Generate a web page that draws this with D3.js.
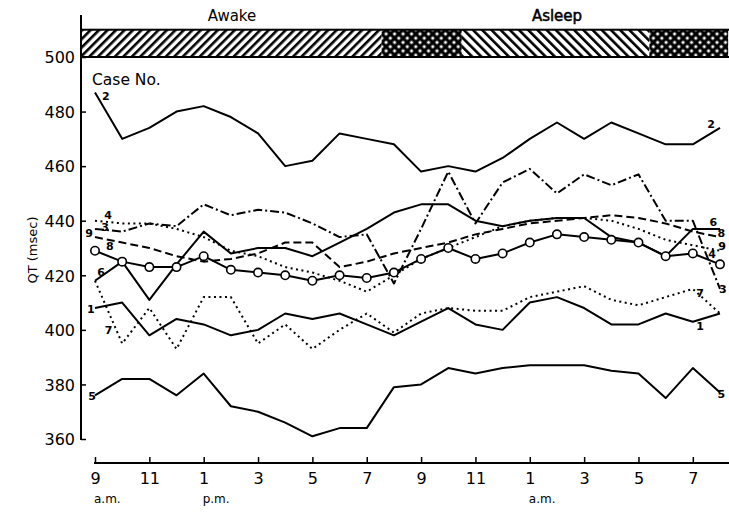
<!DOCTYPE html>
<html>
<head>
<meta charset="utf-8">
<script src="https://cdn.jsdelivr.net/npm/d3@7"></script>
<style>
  body { margin: 0; background: #fff; }
  svg { display: block; }
  text { font-family: "DejaVu Sans", sans-serif; fill: #000; }
</style>
</head>
<body>
<svg id="chart" width="729" height="518"></svg>
<script>
// hour 0 = 9 a.m., hour 23 = 8 a.m. next day
var hours = d3.range(24);
var tickHours = [0, 2, 4, 6, 8, 10, 12, 14, 16, 18, 20, 22];
var tickLabels = ["9", "11", "1", "3", "5", "7", "9", "11", "1", "3", "5", "7"];
var periodHours = [0, 4, 16];
var periodLabels = ["a.m.", "p.m.", "a.m."];
var yTicks = [360, 380, 400, 420, 440, 460, 480, 500];

// sleep band: segment edges in hours, and fill type
var bandEdges = [-0.5, 10.55, 13.5, 20.4, 23.3];
var bandFills = ["fwd", "cross", "back", "cross"];

var case1 = [408, 410, 398, 404, 402, 398, 400, 406, 404, 406, 402, 398, 403, 408, 402, 400, 410, 412, 408, 402, 402, 406, 403, 406];
var case2 = [487, 470, 474, 480, 482, 478, 472, 460, 462, 472, 470, 468, 458, 460, 458, 463, 470, 476, 470, 476, 472, 468, 468, 474];
var case3 = [437, 436, 439, 438, 446, 442, 444, 443, 439, 434, 435, 417, 437, 458, 439, 454, 459, 450, 457, 453, 457, 440, 440, 415];
var case4 = [440, 439, 439, 437, 434, 429, 427, 423, 421, 418, 414, 420, 426, 430, 434, 438, 440, 441, 441, 440, 437, 433, 431, 429];
var case5 = [376, 382, 382, 376, 384, 372, 370, 366, 361, 364, 364, 379, 380, 386, 384, 386, 387, 387, 387, 385, 384, 375, 386, 377];
var case6 = [418, 425, 411, 424, 436, 428, 430, 430, 427, 432, 437, 443, 446, 446, 440, 438, 440, 441, 441, 434, 432, 427, 437, 437];
var case7 = [418, 395, 408, 393, 412, 412, 395, 402, 393, 400, 406, 399, 406, 408, 407, 407, 412, 414, 416, 411, 409, 412, 415, 406];
var case8 = [429, 425, 423, 423, 427, 422, 421, 420, 418, 420, 419, 421, 426, 430, 426, 428, 432, 435, 434, 433, 432, 427, 428, 424];
var case9 = [434, 432, 430, 427, 425, 426, 428, 432, 432, 423, 425, 428, 430, 432, 435, 437, 439, 440, 441, 442, 441, 439, 436, 434];

var series = [
  { id: "1", values: case1, style: "solid" },
  { id: "2", values: case2, style: "solid" },
  { id: "3", values: case3, style: "dashdot" },
  { id: "4", values: case4, style: "dotted" },
  { id: "5", values: case5, style: "solid" },
  { id: "6", values: case6, style: "solid" },
  { id: "7", values: case7, style: "dotted" },
  { id: "8", values: case8, style: "circles" },
  { id: "9", values: case9, style: "dashed" }
];

// where the case numbers sit, in hours and msec
var leftLabels = [
  { id: "2", h: 0.4, v: 484.2 }, { id: "4", h: 0.48, v: 440.6 }, { id: "3", h: 0.37, v: 436.4 },
  { id: "9", h: -0.22, v: 434.0 }, { id: "8", h: 0.55, v: 429.3 }, { id: "6", h: 0.22, v: 419.7 },
  { id: "1", h: -0.15, v: 406.2 }, { id: "7", h: 0.5, v: 398.4 }, { id: "5", h: -0.11, v: 374.3 }
];
var rightLabels = [
  { id: "2", h: 22.67, v: 474.0 }, { id: "6", h: 22.75, v: 437.9 }, { id: "8", h: 23.05, v: 434.0 },
  { id: "9", h: 23.08, v: 429.2 }, { id: "4", h: 22.71, v: 426.4 }, { id: "3", h: 23.1, v: 413.5 },
  { id: "7", h: 22.27, v: 412.0 }, { id: "1", h: 22.27, v: 400.0 }, { id: "5", h: 23.05, v: 375.0 }
];

var svg = d3.select("#chart");

var x = d3.scaleLinear().domain([0, 23]).range([95, 720]);
var y = d3.scaleLinear().domain([360, 500]).range([439, 57]);

var dashes = { solid: null, circles: null, dotted: "2,3.5", dashed: "8,4", dashdot: "9,3,2,3" };

// hatch patterns for the band
var defs = svg.append("defs");
var fwd = defs.append("pattern").attr("id", "fwd").attr("patternUnits", "userSpaceOnUse")
  .attr("width", 6).attr("height", 6).attr("patternTransform", "rotate(45)");
fwd.append("rect").attr("width", 6).attr("height", 6).attr("fill", "#fff");
fwd.append("rect").attr("width", 2.6).attr("height", 6).attr("fill", "#000");
var back = defs.append("pattern").attr("id", "back").attr("patternUnits", "userSpaceOnUse")
  .attr("width", 6.5).attr("height", 6.5).attr("patternTransform", "rotate(-45)");
back.append("rect").attr("width", 6.5).attr("height", 6.5).attr("fill", "#fff");
back.append("rect").attr("width", 2.6).attr("height", 6.5).attr("fill", "#000");
var cross = defs.append("pattern").attr("id", "cross").attr("patternUnits", "userSpaceOnUse")
  .attr("width", 6).attr("height", 6).attr("patternTransform", "rotate(45)");
cross.append("rect").attr("width", 6).attr("height", 6).attr("fill", "#000");
cross.append("rect").attr("x", 1.6).attr("y", 1.6).attr("width", 2.8).attr("height", 2.8).attr("fill", "#fff");

var bandTop = y(510), bandBottom = y(500);
svg.selectAll(".band").data(bandFills).enter().append("rect")
  .attr("class", "band")
  .attr("x", (d, i) => Math.max(x(bandEdges[i]), 81))
  .attr("y", bandTop)
  .attr("width", (d, i) => Math.min(x(bandEdges[i + 1]), 729) - Math.max(x(bandEdges[i]), 81))
  .attr("height", bandBottom - bandTop)
  .attr("fill", d => "url(#" + d + ")");
svg.append("rect").attr("x", 81).attr("y", bandTop).attr("width", 660).attr("height", bandBottom - bandTop)
  .attr("fill", "none").attr("stroke", "#000").attr("stroke-width", 2);

svg.append("text").attr("x", 232).attr("y", 21).attr("text-anchor", "middle")
  .style("font-size", "15px").text("Awake");
svg.append("text").attr("x", 557).attr("y", 21).attr("text-anchor", "middle")
  .style("font-size", "15px").attr("stroke", "#000").attr("stroke-width", 0.5).text("Asleep");

// y axis
svg.append("line").attr("x1", 81).attr("x2", 81).attr("y1", 15).attr("y2", y(360) + 1)
  .attr("stroke", "#000").attr("stroke-width", 2);
var yAxis = svg.append("g").attr("transform", "translate(81,0)")
  .call(d3.axisLeft(y).tickValues(yTicks).tickSize(-5).tickPadding(6));
yAxis.select(".domain").remove();
yAxis.selectAll("line").attr("stroke-width", 1.5);
yAxis.selectAll("text").style("font-size", "16px").style("font-family", "DejaVu Sans").attr("dy", "0.36em");

svg.append("text").attr("transform", "translate(37,250) rotate(-90)")
  .attr("text-anchor", "middle").style("font-size", "13px").text("QT (msec)");

// x axis
var xAxisY = 463;
svg.append("line").attr("x1", x(0) - 1).attr("x2", 729).attr("y1", xAxisY).attr("y2", xAxisY)
  .attr("stroke", "#000").attr("stroke-width", 2);
var xAxis = svg.append("g").attr("transform", "translate(0," + xAxisY + ")")
  .call(d3.axisBottom(x).tickValues(tickHours).tickFormat((d, i) => tickLabels[i]).tickSize(-6).tickPadding(10));
xAxis.select(".domain").remove();
xAxis.selectAll("line").attr("stroke-width", 1.5);
xAxis.selectAll("text").style("font-size", "16px").style("font-family", "DejaVu Sans").attr("dy", "0.71em");

svg.selectAll(".period").data(periodLabels).enter().append("text")
  .attr("class", "period")
  .attr("x", (d, i) => x(periodHours[i]) - 1)
  .attr("y", 503)
  .style("font-size", "12px")
  .text(d => d);

svg.append("text").attr("x", 92).attr("y", 85).style("font-size", "15.5px").text("Case No.");

// lines
var line = d3.line().x((d, i) => x(hours[i])).y(d => y(d));

svg.selectAll(".series").data(series).enter().append("path")
  .attr("class", "series")
  .attr("d", d => line(d.values))
  .attr("fill", "none")
  .attr("stroke", "#000")
  .attr("stroke-width", 2)
  .attr("stroke-linejoin", "round")
  .attr("stroke-dasharray", d => dashes[d.style]);

var circ = series.filter(d => d.style === "circles")[0];
svg.selectAll(".pt").data(circ.values).enter().append("circle")
  .attr("class", "pt")
  .attr("cx", (d, i) => x(hours[i]))
  .attr("cy", d => y(d))
  .attr("r", 4.2)
  .attr("fill", "#fff")
  .attr("stroke", "#000")
  .attr("stroke-width", 1.6);

// case numbers
svg.selectAll(".lab").data(leftLabels.concat(rightLabels)).enter().append("text")
  .attr("class", "lab")
  .attr("x", d => x(d.h))
  .attr("y", d => y(d.v))
  .attr("text-anchor", "middle")
  .style("font-size", "11px").style("font-weight", "bold")
  .text(d => d.id);
</script>
</body>
</html>
